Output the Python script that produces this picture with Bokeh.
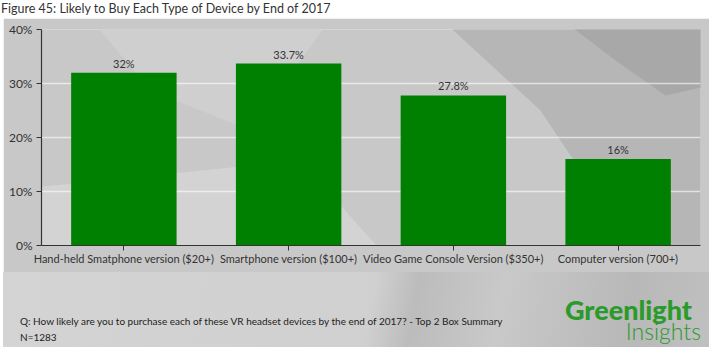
from bokeh.plotting import figure
from bokeh.models import ColumnDataSource, Div, CustomJSTickFormatter, FixedTicker, PolyAnnotation
from bokeh.layouts import column
from bokeh.embed import file_html
from bokeh.resources import INLINE
from bokeh.core.properties import value

title_text = "Figure 45: Likely to Buy Each Type of Device by End of 2017"
categories = ["Hand-held Smatphone version ($20+)", "Smartphone version ($100+)",
              "Video Game Console Version ($350+)", "Computer version (700+)"]
values = [32.0, 33.7, 27.8, 16.0]
value_labels = ["32%", "33.7%", "27.8%", "16%"]
y_ticks = [0, 10, 20, 30, 40]
footer_q = "Q: How likely are you to purchase each of these VR headset devices by the end of 2017? - Top 2 Box Summary"
footer_n = "N=1283"
logo_top = "Greenlight"
logo_bottom = "Insights"

FONT = "Lato"
BG = "#c8c8c8"
GREEN = "#008000"
LOGO_GREEN = "#2a9a2a"


def add_polys(fig, shapes, fx, fy):
    # decorative low-poly background; shapes in page pixels, converted to frame screen units
    for pts, col in shapes:
        fig.add_layout(PolyAnnotation(xs=[x - fx for x, _ in pts], ys=[fy - y for _, y in pts],
                                      xs_units="screen", ys_units="screen",
                                      fill_color=col, fill_alpha=1.0, line_color=None, level="image"))


# ---------------- main chart ----------------
FX, FY = 41, 245  # frame left / bottom in page pixels
src = ColumnDataSource(dict(cat=categories, val=values, lab=value_labels))

p = figure(x_range=categories, y_range=(0, 40), width=706, height=254,
           output_backend="svg", toolbar_location=None, title=None,
           min_border_left=38, min_border_right=9, min_border_top=11, min_border_bottom=27)
p.margin = (0, 4, 0, 3)
p.background_fill_color = BG
p.border_fill_color = BG
p.outline_line_color = None

add_polys(p, [
    ([(440, 18), (709, 18), (709, 272), (640, 272), (600, 200), (540, 110)], "#b6b6b6"),
    ([(560, 18), (709, 18), (709, 85), (665, 95), (615, 60)], "#a8a8a8"),
    ([(3, 190), (300, 160), (400, 272), (3, 272)], "#d3d3d3"),
    ([(90, 18), (330, 18), (250, 130), (150, 90)], "#cfcfcf"),
], FX, FY)

p.vbar(x="cat", top="val", width=0.64, source=src, fill_color=GREEN, line_color=None)
p.text(x="cat", y="val", text="lab", source=src, text_align="center", text_baseline="bottom",
       y_offset=-3, text_font=value(FONT), text_font_size="11px", text_color="#333333")

p.xgrid.grid_line_color = None
p.ygrid.grid_line_color = "#ffffff"
p.ygrid.grid_line_alpha = 0.6
p.ygrid.grid_line_width = 1.5
p.ygrid.ticker = FixedTicker(ticks=y_ticks)

p.yaxis.ticker = FixedTicker(ticks=y_ticks)
p.yaxis.formatter = CustomJSTickFormatter(code="return tick + '%';")
for ax in (p.xaxis[0], p.yaxis[0]):
    ax.axis_line_color = "#333333"
    ax.axis_line_width = 1.2
    ax.major_tick_line_color = "#333333"
    ax.major_tick_in = 0
    ax.major_tick_out = 5
    ax.minor_tick_line_color = None
    ax.major_label_text_font = FONT
    ax.major_label_text_color = "#333333"
p.xaxis.major_label_text_font_size = "11px"
p.yaxis.major_label_text_font_size = "12px"
p.xaxis.major_label_standoff = 1
p.yaxis.major_label_standoff = 4
p.x_range.range_padding = 0.0

# ---------------- footer (HTML) ----------------
footer_html = (
    '<div style="position:relative;width:706px;height:75px;overflow:hidden;">'
    f'<span style="position:absolute;left:17px;top:44px;font-family:Lato;font-size:10px;line-height:10px;color:#222;white-space:nowrap;">{footer_q}</span>'
    f'<span style="position:absolute;left:17px;top:60px;font-family:Lato;font-size:10px;line-height:10px;color:#222;white-space:nowrap;">{footer_n}</span>'
    f'<span style="position:absolute;right:17px;top:27px;font-family:Lato;font-size:27px;font-weight:900;line-height:22px;color:{LOGO_GREEN};white-space:nowrap;">{logo_top}</span>'
    f'<span style="position:absolute;right:8px;top:50px;font-family:Lato;font-size:23px;font-weight:300;line-height:18px;color:{LOGO_GREEN};white-space:nowrap;">{logo_bottom}</span>'
    '</div>'
)
footer = Div(text=footer_html, width=706, height=75, margin=(0, 4, 0, 3),
             styles={"background": "linear-gradient(100deg, #d4d4d4 0%, #d0d0d0 52%, #bcbcbc 58%, #c9c9c9 70%, #b8b8b8 88%, #c0c0c0 100%)"})

title = Div(text=title_text, width=713, height=18, margin=(0, 0, 0, 0),
            styles={"font-family": "Lato", "font-size": "12.5px", "color": "#333333",
                    "padding-left": "1px", "line-height": "18px", "white-space": "nowrap"})

layout = column(title, p, footer, spacing=0)
layout.margin = (0, 0, 0, 0)

open("out.html", "w").write(file_html(layout, INLINE))
